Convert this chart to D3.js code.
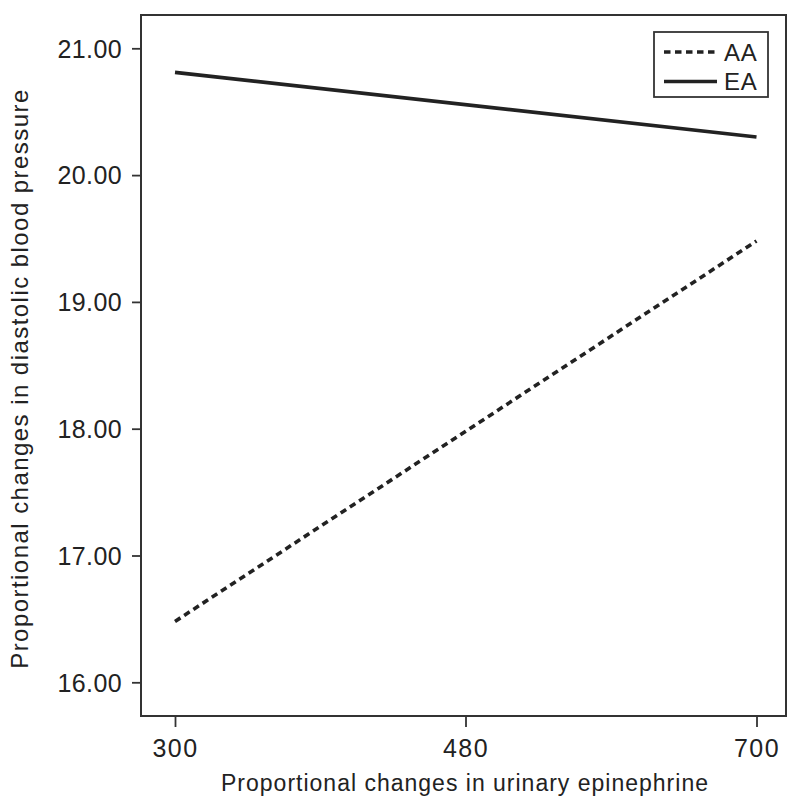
<!DOCTYPE html>
<html><head><meta charset="utf-8">
<script src="https://cdn.jsdelivr.net/npm/d3@7"></script>
<style>body{margin:0;background:#fff}svg{display:block}text{font-family:"Liberation Sans",Arial,sans-serif;fill:#222}</style>
</head><body>
<svg id="c" width="800" height="809"></svg>
<script>
const xTicks = [300, 480, 700];
const yTicks = [16, 17, 18, 19, 20, 21];
const seriesNames = ["AA", "EA"];
const xValues = [300, 700];
const aaValues = [16.48, 19.48];
const eaValues = [20.81, 20.30];

const svg = d3.select("#c");
const L = 141, R = 786, T = 15, B = 716;
const x = d3.scaleLinear().domain([300, 480, 700]).range([175, 465.5, 756.5]);
const y = d3.scaleLinear().domain([16, 21]).range([682.3, 48.3]);

svg.append("rect").attr("x", L).attr("y", T).attr("width", R - L).attr("height", B - T)
  .attr("fill", "none").attr("stroke", "#333").attr("stroke-width", 2);

const xa = svg.append("g").attr("transform", `translate(0,${B})`)
  .call(d3.axisBottom(x).tickValues(xTicks).tickSize(11).tickPadding(12.5).tickFormat(d3.format("d")));
const ya = svg.append("g").attr("transform", `translate(${L},0)`)
  .call(d3.axisLeft(y).tickValues(yTicks).tickSize(9).tickPadding(10).tickFormat(d3.format(".2f")));
[xa, ya].forEach(a => {
  a.select(".domain").remove();
  a.selectAll("line").attr("stroke", "#333").attr("stroke-width", 1.8);
  a.selectAll("text").style("font-size", "25px").style("letter-spacing", "0.4px").attr("fill", "#222");
});
xa.selectAll("text").style("letter-spacing", "1.5px");
ya.selectAll("text").attr("dy", "0.35em");

const line = d3.line().x(d => x(d[0])).y(d => y(d[1]));
svg.append("path").datum(xValues.map((v, i) => [v, aaValues[i]])).attr("d", line)
  .attr("fill", "none").attr("stroke", "#222").attr("stroke-width", 3.6).attr("stroke-dasharray", "6.5,4.5");
svg.append("path").datum(xValues.map((v, i) => [v, eaValues[i]])).attr("d", line)
  .attr("fill", "none").attr("stroke", "#222").attr("stroke-width", 3.6);

svg.append("text").attr("x", 465).attr("y", 791).attr("text-anchor", "middle")
  .style("font-size", "23px").style("letter-spacing", "1px").text("Proportional changes in urinary epinephrine");
svg.append("text").attr("transform", `translate(27.5,378.5) rotate(-90)`).attr("text-anchor", "middle")
  .style("font-size", "24px").style("letter-spacing", "1.45px").text("Proportional changes in diastolic blood pressure");

const lg = svg.append("g");
lg.append("rect").attr("x", 654).attr("y", 32).attr("width", 114).attr("height", 65)
  .attr("fill", "#fff").attr("stroke", "#333").attr("stroke-width", 1.8);
seriesNames.forEach((n, i) => {
  const yy = 52 + i * 29.5;
  lg.append("line").attr("x1", 664).attr("x2", 717).attr("y1", yy).attr("y2", yy)
    .attr("stroke", "#222").attr("stroke-width", 3.4).attr("stroke-dasharray", i === 0 ? "6.5,4.5" : null);
  lg.append("text").attr("x", 724).attr("y", yy + 8.5).style("font-size", "24px").style("letter-spacing", "0.8px").text(n);
});
</script>
</body></html>
